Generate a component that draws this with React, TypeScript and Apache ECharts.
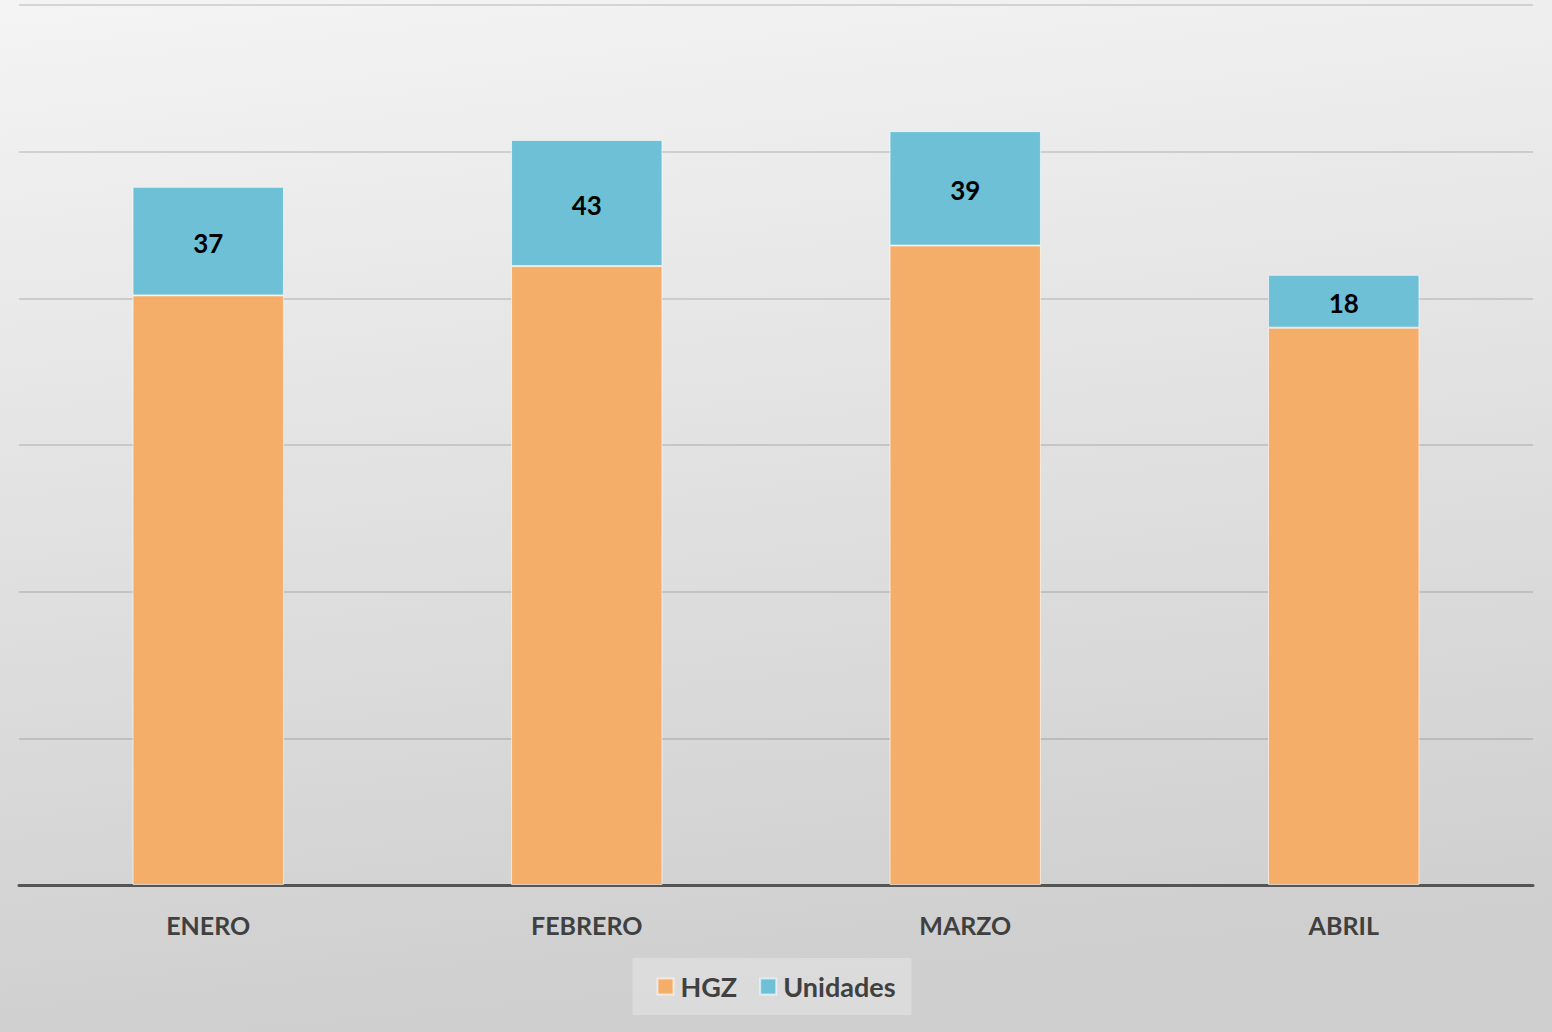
import React, { useEffect, useRef } from "react";
import * as echarts from "echarts";

const categories = ["ENERO", "FEBRERO", "MARZO", "ABRIL"];
const hgzValues = [201, 211, 218, 190];
const unidadesValues = [37, 43, 39, 18];
const yMin = 0;
const yMax = 300;
const yInterval = 50;

const FONT = "Lato, 'Open Sans', sans-serif";

export default function App() {
  const ref = useRef<HTMLDivElement>(null);
  useEffect(() => {
    if (!ref.current) return;
    const chart = echarts.init(ref.current, null, { renderer: "svg" });
    chart.setOption({
      animation: false,
      backgroundColor: {
        type: "linear",
        x: 0,
        y: 0,
        x2: 0.15,
        y2: 1,
        colorStops: [
          { offset: 0, color: "#f4f4f4" },
          { offset: 1, color: "#cfcfcf" },
        ],
      },
      grid: { left: 19, right: 19, top: 5, bottom: 147, containLabel: false },
      xAxis: {
        type: "category",
        data: categories,
        axisLine: { show: true, lineStyle: { color: "#555555", width: 3 } },
        axisTick: { show: false },
        axisLabel: {
          color: "#404040",
          fontFamily: FONT,
          fontWeight: "bold",
          fontSize: 25,
          margin: 27,
        },
      },
      yAxis: {
        type: "value",
        min: yMin,
        max: yMax,
        interval: yInterval,
        axisLine: { show: false },
        axisTick: { show: false },
        axisLabel: { show: false },
        splitLine: { show: true, lineStyle: { color: "rgba(0,0,0,0.12)", width: 2 } },
      },
      legend: {
        top: 958,
        left: "center",
        itemWidth: 16,
        itemHeight: 16,
        itemGap: 22,
        padding: [15, 16, 15, 24],
        backgroundColor: "rgba(255,255,255,0.25)",
        textStyle: {
          color: "#404040",
          fontFamily: FONT,
          fontWeight: "bold",
          fontSize: 27,
          padding: [0, 0, 0, 2],
        },
        data: [
          { name: "HGZ", icon: "rect" },
          { name: "Unidades", icon: "rect" },
        ],
      },
      series: [
        {
          name: "HGZ",
          type: "bar",
          stack: "total",
          data: hgzValues,
          barWidth: "40%",
          itemStyle: {
            color: "#f5ae69",
            borderColor: "rgba(255,255,255,0.6)",
            borderWidth: 1,
          },
        },
        {
          name: "Unidades",
          type: "bar",
          stack: "total",
          data: unidadesValues,
          barWidth: "40%",
          itemStyle: {
            color: "#6ec0d6",
            borderColor: "rgba(255,255,255,0.6)",
            borderWidth: 1,
          },
          label: {
            show: true,
            position: "inside",
            color: "#000000",
            fontFamily: FONT,
            fontWeight: "bold",
            fontSize: 26,
            offset: [0, 2],
          },
        },
      ],
    });
    return () => chart.dispose();
  }, []);
  return (
    <div
      ref={ref}
      style={{ position: "absolute", left: 0, top: 0, width: 1552, height: 1032 }}
    />
  );
}
